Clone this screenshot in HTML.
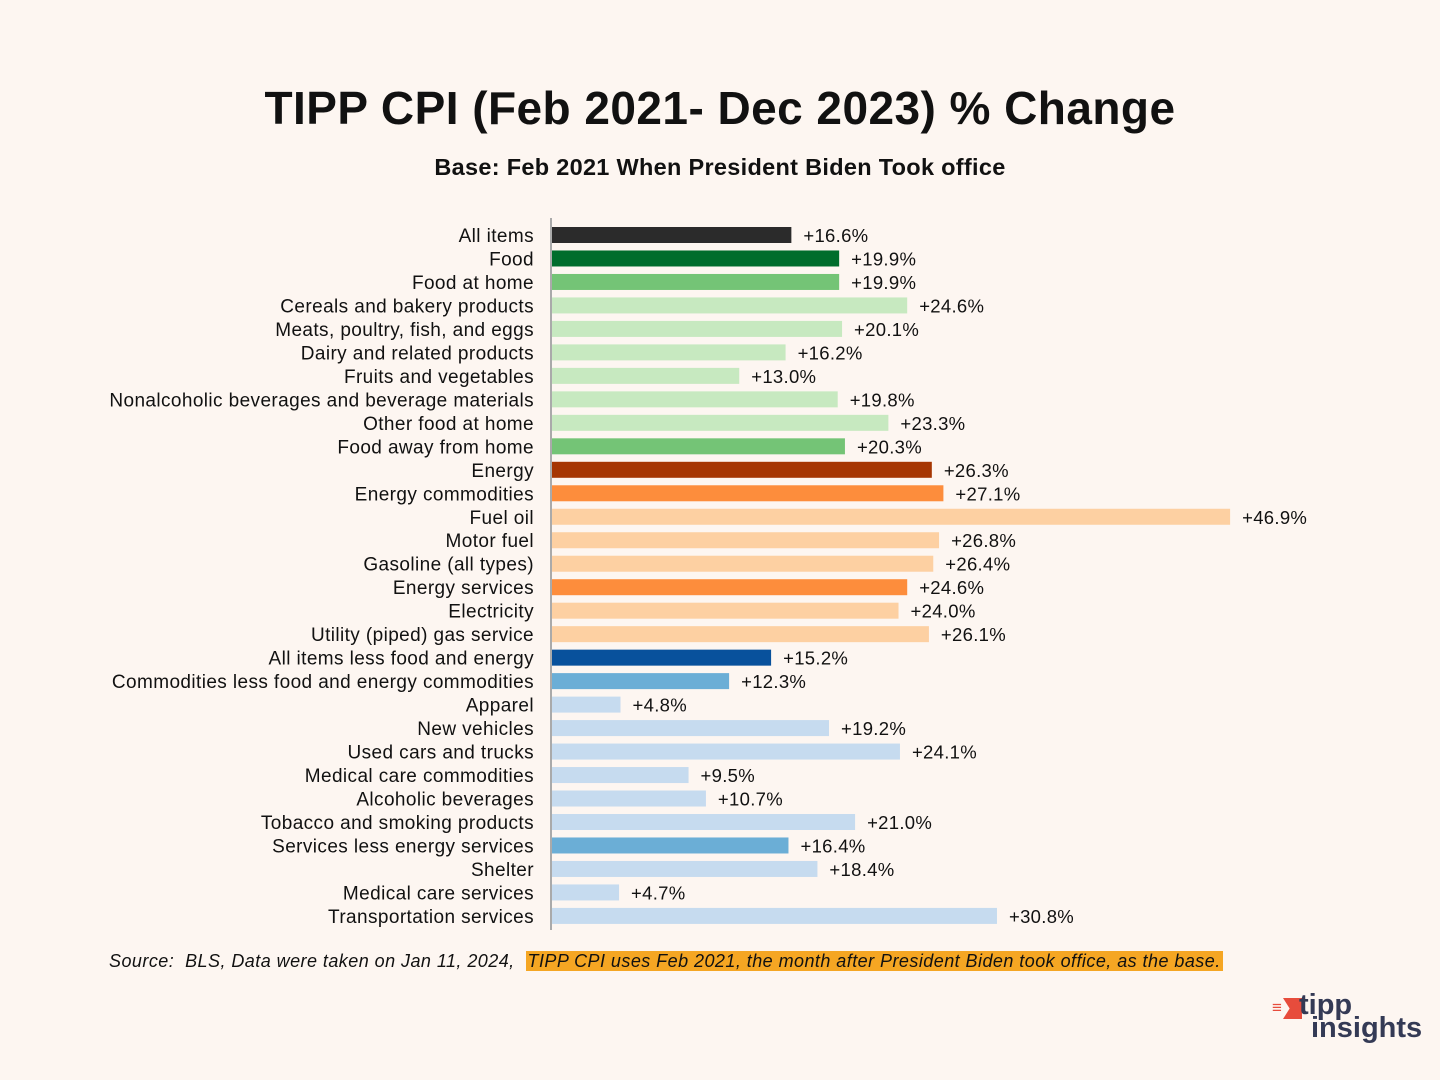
<!DOCTYPE html>
<html><head><meta charset="utf-8"><style>
body{margin:0;width:1440px;height:1080px;background:#fdf6f1;font-family:"Liberation Sans",sans-serif;position:relative;overflow:hidden;color:#111}
#title{position:absolute;top:81px;left:0;width:1440px;text-align:center;font-size:46px;font-weight:bold;letter-spacing:0.45px}
#sub{position:absolute;top:154px;left:0;width:1440px;text-align:center;font-size:23.5px;font-weight:bold;letter-spacing:0.3px}
#src{position:absolute;top:950px;left:109px;font-size:18px;font-style:italic;white-space:nowrap;line-height:23px;letter-spacing:0.45px}
#src .hl{background:#f5a623;padding:0 2px}
#logo{position:absolute;left:1270px;top:994px;width:160px;height:55px}
</style></head><body>
<div id="title">TIPP CPI (Feb 2021- Dec 2023) % Change</div>
<div id="sub">Base: Feb 2021 When President Biden Took office</div>
<svg id="chart" width="1440" height="1080" style="position:absolute;left:0;top:0"></svg>
<div id="src">Source:&nbsp; BLS, Data were taken on Jan 11, 2024,&nbsp; <span class="hl">TIPP CPI uses Feb 2021, the month after President Biden took office, as the base.</span></div>
<div id="logo">
<div style="position:absolute;left:2px;top:4px;font-size:17px;color:#e74c3c;font-weight:bold">&#8801;</div>
<div style="position:absolute;left:13px;top:4px;width:19px;height:21px;background:#e74c3c;clip-path:polygon(0 0,100% 0,100% 100%,0 100%,35% 50%)"></div>
<div style="position:absolute;left:29px;top:-5px;font-size:29px;font-weight:bold;color:#343a55">tipp</div>
<div style="position:absolute;left:41px;top:18px;font-size:29px;font-weight:bold;color:#343a55">insights</div>
</div>
<script>
const categories=["All items","Food","Food at home","Cereals and bakery products","Meats, poultry, fish, and eggs","Dairy and related products","Fruits and vegetables","Nonalcoholic beverages and beverage materials","Other food at home","Food away from home","Energy","Energy commodities","Fuel oil","Motor fuel","Gasoline (all types)","Energy services","Electricity","Utility (piped) gas service","All items less food and energy","Commodities less food and energy commodities","Apparel","New vehicles","Used cars and trucks","Medical care commodities","Alcoholic beverages","Tobacco and smoking products","Services less energy services","Shelter","Medical care services","Transportation services"];
const values=[16.6,19.9,19.9,24.6,20.1,16.2,13.0,19.8,23.3,20.3,26.3,27.1,46.9,26.8,26.4,24.6,24.0,26.1,15.2,12.3,4.8,19.2,24.1,9.5,10.7,21.0,16.4,18.4,4.7,30.8];
const groups=["all","food","food2","food3","food3","food3","food3","food3","food3","food2","energy","energy2","energy3","energy3","energy3","energy2","energy3","energy3","core","core2","core3","core3","core3","core3","core3","core3","core2","core3","core3","core3"];
const colors={all:"#2b2b2b",food:"#006d2c",food2:"#74c476",food3:"#c7e9c0",energy:"#a63603",energy2:"#fd8d3c",energy3:"#fdd0a2",core:"#08519c",core2:"#6baed6",core3:"#c6dbef"};
const svg=document.getElementById('chart');const NS="http://www.w3.org/2000/svg";
const x0=551,pxPer=14.48,y0=235,step=23.48,bh=16;
const xs=v=>x0+v*pxPer, ys=i=>y0+i*step;
function mk(t,a){const e=document.createElementNS(NS,t);for(const k in a)e.setAttribute(k,a[k]);svg.appendChild(e);return e;}
categories.forEach((c,i)=>{
 const r=mk('rect',{x:x0,y:ys(i)-bh/2,width:xs(values[i])-x0,height:bh,fill:colors[groups[i]]});
 
 
 const l=mk('text',{x:534,y:ys(i)+7,'text-anchor':'end','font-size':'19','letter-spacing':'0.4','font-family':'Liberation Sans, sans-serif',fill:'#111'});
 l.textContent=c;
 
 
 const v=mk('text',{x:xs(values[i])+12,y:ys(i)+7,'font-size':'18.5','letter-spacing':'0.3','font-family':'Liberation Sans, sans-serif',fill:'#111'});
 v.textContent='+'+values[i].toFixed(1)+'%';
 
 
});
const ax=mk('line',{x1:x0,x2:x0,y1:218,y2:930,stroke:'#aaa','stroke-width':2});


</script>
</body></html>
